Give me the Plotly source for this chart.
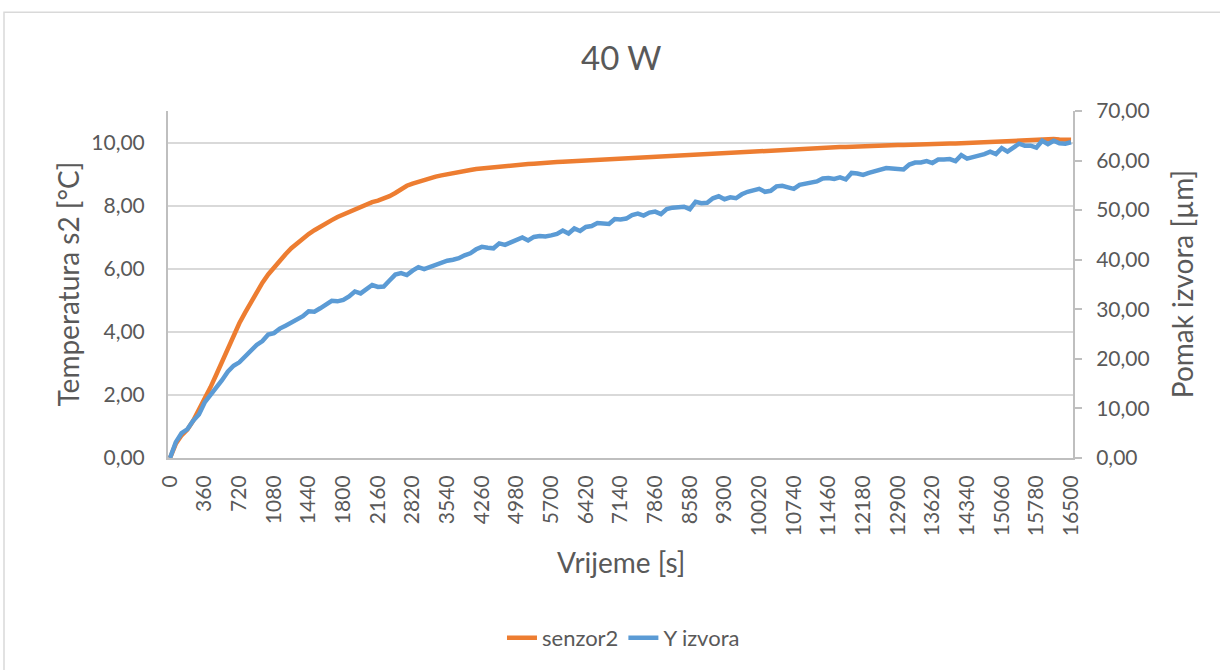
import plotly.graph_objects as go

# Sampling times [s]: every 60 s up to 2220 s, then every 120 s up to 16500 s
vrijeme = list(range(0, 2221, 60)) + list(range(2340, 16501, 120))

# Temperature of sensor 2 [°C]
senzor2 = [
    0.00, 0.45, 0.72, 0.90, 1.18, 1.52, 1.86, 2.24, 2.64, 3.05,
    3.47, 3.87, 4.27, 4.61, 4.95, 5.26, 5.56, 5.82, 6.04, 6.27,
    6.46, 6.65, 6.81, 6.96, 7.10, 7.22, 7.34, 7.45, 7.54, 7.64,
    7.72, 7.80, 7.88, 7.96, 8.05, 8.11, 8.16, 8.22, 8.30, 8.40,
    8.53, 8.63, 8.70, 8.76, 8.83, 8.88, 8.92, 8.96, 9.00, 9.04,
    9.07, 9.10, 9.13, 9.16, 9.18, 9.20, 9.23, 9.25, 9.26, 9.28,
    9.29, 9.31, 9.32, 9.33, 9.35, 9.36, 9.37, 9.38, 9.39, 9.40,
    9.41, 9.42, 9.43, 9.44, 9.45, 9.46, 9.47, 9.48, 9.48, 9.50,
    9.51, 9.52, 9.53, 9.54, 9.55, 9.57, 9.58, 9.59, 9.61, 9.62,
    9.63, 9.64, 9.65, 9.66, 9.67, 9.68, 9.69, 9.70, 9.70, 9.71,
    9.72, 9.73, 9.74, 9.75, 9.76, 9.77, 9.77, 9.78, 9.79, 9.80,
    9.81, 9.82, 9.83, 9.84, 9.85, 9.85, 9.86, 9.86, 9.87, 9.87,
    9.88, 9.88, 9.89, 9.90, 9.90, 9.91, 9.92, 9.92, 9.93, 9.94,
    9.94, 9.95, 9.95, 9.96, 9.96, 9.97, 9.97, 9.98, 9.98, 9.99,
    10.00, 10.00, 10.01, 10.02, 10.03, 10.04, 10.06, 10.07, 10.08, 10.09,
    10.09, 10.10, 10.10, 10.11, 10.10, 10.10, 10.09,
]

# Displacement of the source, Y direction [µm]
y_izvora = [
    0.0, 3.2, 5.0, 5.8, 7.5, 8.8, 11.2, 12.6, 14.2, 15.7,
    17.4, 18.6, 19.3, 20.5, 21.5, 22.8, 23.6, 24.9, 25.2, 26.1,
    26.7, 27.4, 27.9, 28.6, 29.6, 29.5, 30.2, 30.9, 31.7, 31.6,
    31.9, 32.6, 33.6, 33.2, 34.0, 34.9, 34.5, 34.6, 35.8, 37.0,
    37.3, 36.9, 37.8, 38.5, 38.1, 38.5, 39.1, 39.5, 39.8, 40.0,
    40.3, 40.9, 41.3, 42.1, 42.6, 42.4, 42.3, 43.3, 43.0, 43.5,
    44.0, 44.5, 43.9, 44.6, 44.8, 44.7, 44.9, 45.2, 45.9, 45.3,
    46.3, 45.8, 46.6, 46.8, 47.4, 47.3, 47.2, 48.2, 48.1, 48.3,
    49.0, 49.3, 48.9, 49.5, 49.7, 49.2, 50.2, 50.5, 50.7, 50.7,
    50.2, 51.7, 51.4, 51.5, 52.4, 52.8, 52.2, 52.6, 52.4, 53.2,
    53.7, 53.9, 54.3, 53.7, 53.9, 54.8, 54.9, 54.6, 54.3, 55.1,
    55.4, 55.6, 55.8, 56.4, 56.5, 56.3, 56.6, 56.2, 57.5, 57.4,
    57.1, 57.5, 57.8, 58.0, 58.5, 58.4, 58.4, 58.2, 59.2, 59.6,
    59.6, 59.9, 59.5, 60.2, 60.2, 60.3, 59.9, 61.1, 60.4, 60.8,
    61.0, 61.3, 61.8, 61.3, 62.5, 61.8, 62.6, 63.4, 63.0, 63.0,
    62.6, 64.0, 63.3, 64.0, 63.5, 63.4, 63.7,
]

kategorije = [str(t) for t in vrijeme]
oznake_x = kategorije[::6]

FONT = "Lato"
TEXT = "#595959"
GRID = "#D9D9D9"
AXIS = "#BFBFBF"

fig = go.Figure()
fig.add_trace(go.Scatter(
    x=kategorije, y=senzor2, name="senzor2", mode="lines",
    line=dict(color="#ED7D31", width=4.5), yaxis="y",
))
fig.add_trace(go.Scatter(
    x=kategorije, y=y_izvora, name="Y izvora", mode="lines",
    line=dict(color="#5B9BD5", width=4.5), yaxis="y2",
))

fig.update_layout(
    width=1220, height=670,
    margin=dict(l=168, r=147, t=111, b=211),
    paper_bgcolor="white", plot_bgcolor="white",
    separators=", ",
    font=dict(family=FONT, size=21, color=TEXT),
    showlegend=True,
    legend=dict(
        orientation="h", x=0.5033, xanchor="center", y=-0.514, yanchor="middle",
        font=dict(family=FONT, size=22, color=TEXT), bgcolor="rgba(0,0,0,0)",
    ),
    xaxis=dict(
        type="category", range=[-0.35, 156.34],
        tickmode="array", tickvals=oznake_x, ticktext=oznake_x,
        tickangle=-90, ticks="", ticklabelstandoff=7,
        showline=True, linecolor=AXIS, linewidth=2,
        showgrid=False, zeroline=False,
        tickfont=dict(family=FONT, size=21, color=TEXT),
    ),
    yaxis=dict(
        range=[0, 11], tickvals=[0, 2, 4, 6, 8, 10], tickformat=".2f",
        showgrid=True, gridcolor=GRID, gridwidth=1.5,
        showline=True, linecolor=AXIS, linewidth=2,
        zeroline=False, ticks="", ticklabelstandoff=17,
        tickfont=dict(family=FONT, size=21, color=TEXT),
    ),
    yaxis2=dict(
        overlaying="y", side="right", range=[0, 70],
        tickvals=[0, 10, 20, 30, 40, 50, 60, 70], tickformat=".2f",
        showgrid=False, zeroline=False,
        showline=True, linecolor=AXIS, linewidth=2,
        ticks="outside", ticklen=7, tickcolor=AXIS, tickwidth=2,
        ticklabelstandoff=10,
        tickfont=dict(family=FONT, size=21, color=TEXT),
    ),
)

# Chart title and axis titles
def naslov(text, x, y, size, angle=0):
    fig.add_annotation(text=text, xref="paper", yref="paper", x=x, y=y,
                       xanchor="center", yanchor="middle", textangle=angle,
                       showarrow=False, font=dict(family=FONT, size=size, color=TEXT))

naslov("40 W", 0.5, 1.1566, 33)
naslov("Temperatura s2 [°C]", -0.1116, 0.5, 28, -90)
naslov("Pomak izvora [µm]", 1.1201, 0.5, 28, -90)
naslov("Vrijeme [s]", 0.5, -0.2989, 28)

# Outer chart frame
fig.add_shape(type="rect", xref="paper", yref="paper",
              x0=(4 - 168) / 905, x1=(1225 - 168) / 905,
              y0=(459 - 675) / 348, y1=(459 - 12) / 348,
              line=dict(color=GRID, width=1.5), fillcolor="rgba(0,0,0,0)",
              layer="below")

fig.write_html("out.html")
